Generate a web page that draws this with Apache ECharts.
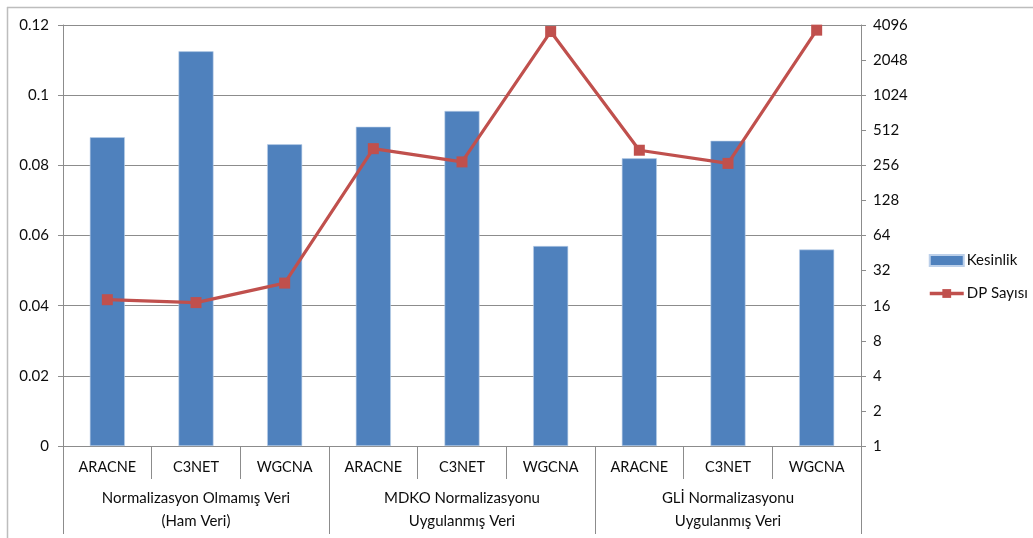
<!DOCTYPE html>
<html>
<head>
<meta charset="utf-8">
<script src="https://cdn.jsdelivr.net/npm/echarts@6/dist/echarts.min.js"></script>
<style>
  html, body { margin: 0; padding: 0; background: #fff; }
  #chart { width: 1033px; height: 538px; }
</style>
</head>
<body>
<div id="chart"></div>
<script>
// Methods evaluated under each normalization scheme
const methods = ['ARACNE', 'C3NET', 'WGCNA', 'ARACNE', 'C3NET', 'WGCNA', 'ARACNE', 'C3NET', 'WGCNA'];
const groups = ['Normalizasyon Olmamış Veri\n(Ham Veri)', 'MDKO Normalizasyonu\nUygulanmış Veri', 'GLİ Normalizasyonu\nUygulanmış Veri'];

// Precision (left axis) and number of true positives (right, log2 axis)
const kesinlik = [0.088, 0.1125, 0.086, 0.091, 0.0955, 0.057, 0.082, 0.087, 0.056];
const dpSayisi = [18, 17, 25, 356, 274, 3600, 345, 266, 3700];

const leftTicks = { min: 0, max: 0.12, interval: 0.02 };
const rightTicks = { min: 1, max: 4096, base: 2 };

const FONT = 'Lato';
const TEXT = '#0d0d0d';
const GRID_GRAY = '#8c8c8c';
const BAR_BLUE = '#4F81BD';
const LINE_RED = '#C0504D';

const chart = echarts.init(document.getElementById('chart'), null, { renderer: 'canvas' });

chart.setOption({
  backgroundColor: '#ffffff',
  animation: false,
  textStyle: { fontFamily: FONT },
  graphic: [
    { type: 'line', shape: { x1: 7, y1: 7.5, x2: 1033, y2: 7.5 }, style: { stroke: '#bdbdbd', lineWidth: 1.5 } },
    { type: 'line', shape: { x1: 7.5, y1: 7, x2: 7.5, y2: 538 }, style: { stroke: '#bdbdbd', lineWidth: 1.5 } }
  ],
  grid: { left: 63, right: 172, top: 25, bottom: 92, containLabel: false },
  legend: {
    orient: 'vertical',
    left: 923,
    top: 248,
    itemWidth: 34,
    itemHeight: 11,
    itemGap: 18,
    textStyle: { fontFamily: FONT, fontSize: 15, color: TEXT, padding: [0, 0, 0, -2] },
    data: [
      { name: 'Kesinlik', icon: 'rect' },
      { name: 'DP Sayısı', lineStyle: { width: 3.5, color: LINE_RED } }
    ]
  },
  xAxis: [
    {
      type: 'category',
      data: methods,
      position: 'bottom',
      axisLine: { lineStyle: { color: GRID_GRAY, width: 1 } },
      axisTick: { show: true, interval: 0, length: 33, lineStyle: { color: GRID_GRAY } },
      axisLabel: { interval: 0, margin: 14, fontSize: 14.5, color: TEXT, fontFamily: FONT }
    },
    {
      type: 'category',
      data: groups,
      position: 'bottom',
      axisLine: { show: false },
      axisTick: { show: true, interval: 0, length: 88, lineStyle: { color: GRID_GRAY } },
      axisLabel: { interval: 0, margin: 41, fontSize: 15, lineHeight: 23, color: TEXT, fontFamily: FONT }
    }
  ],
  yAxis: [
    {
      type: 'value',
      min: leftTicks.min,
      max: leftTicks.max,
      interval: leftTicks.interval,
      axisLine: { show: true, lineStyle: { color: GRID_GRAY } },
      axisTick: { show: true, length: 5, lineStyle: { color: GRID_GRAY } },
      axisLabel: { margin: 14, fontSize: 15, color: TEXT, fontFamily: FONT },
      splitLine: { show: true, lineStyle: { color: GRID_GRAY, width: 1 } }
    },
    {
      type: 'log',
      logBase: rightTicks.base,
      min: rightTicks.min,
      max: rightTicks.max,
      interval: 1,
      splitNumber: 12,
      position: 'right',
      axisLine: { show: true, lineStyle: { color: GRID_GRAY } },
      axisTick: { show: true, length: 5, lineStyle: { color: GRID_GRAY } },
      axisLabel: {
        margin: 12, fontSize: 15, color: TEXT, fontFamily: FONT,
        formatter: v => String(Math.round(v))
      },
      splitLine: { show: false }
    }
  ],
  series: [
    {
      name: 'Kesinlik',
      type: 'bar',
      xAxisIndex: 0,
      yAxisIndex: 0,
      data: kesinlik,
      barWidth: 35,
      itemStyle: { color: BAR_BLUE, borderColor: '#bcd0ea', borderWidth: 0.6 }
    },
    {
      name: 'DP Sayısı',
      type: 'line',
      xAxisIndex: 0,
      yAxisIndex: 1,
      data: dpSayisi,
      symbol: 'rect',
      symbolSize: 11,
      showAllSymbol: true,
      lineStyle: { color: LINE_RED, width: 3.2 },
      itemStyle: { color: LINE_RED }
    }
  ]
});
</script>
</body>
</html>
